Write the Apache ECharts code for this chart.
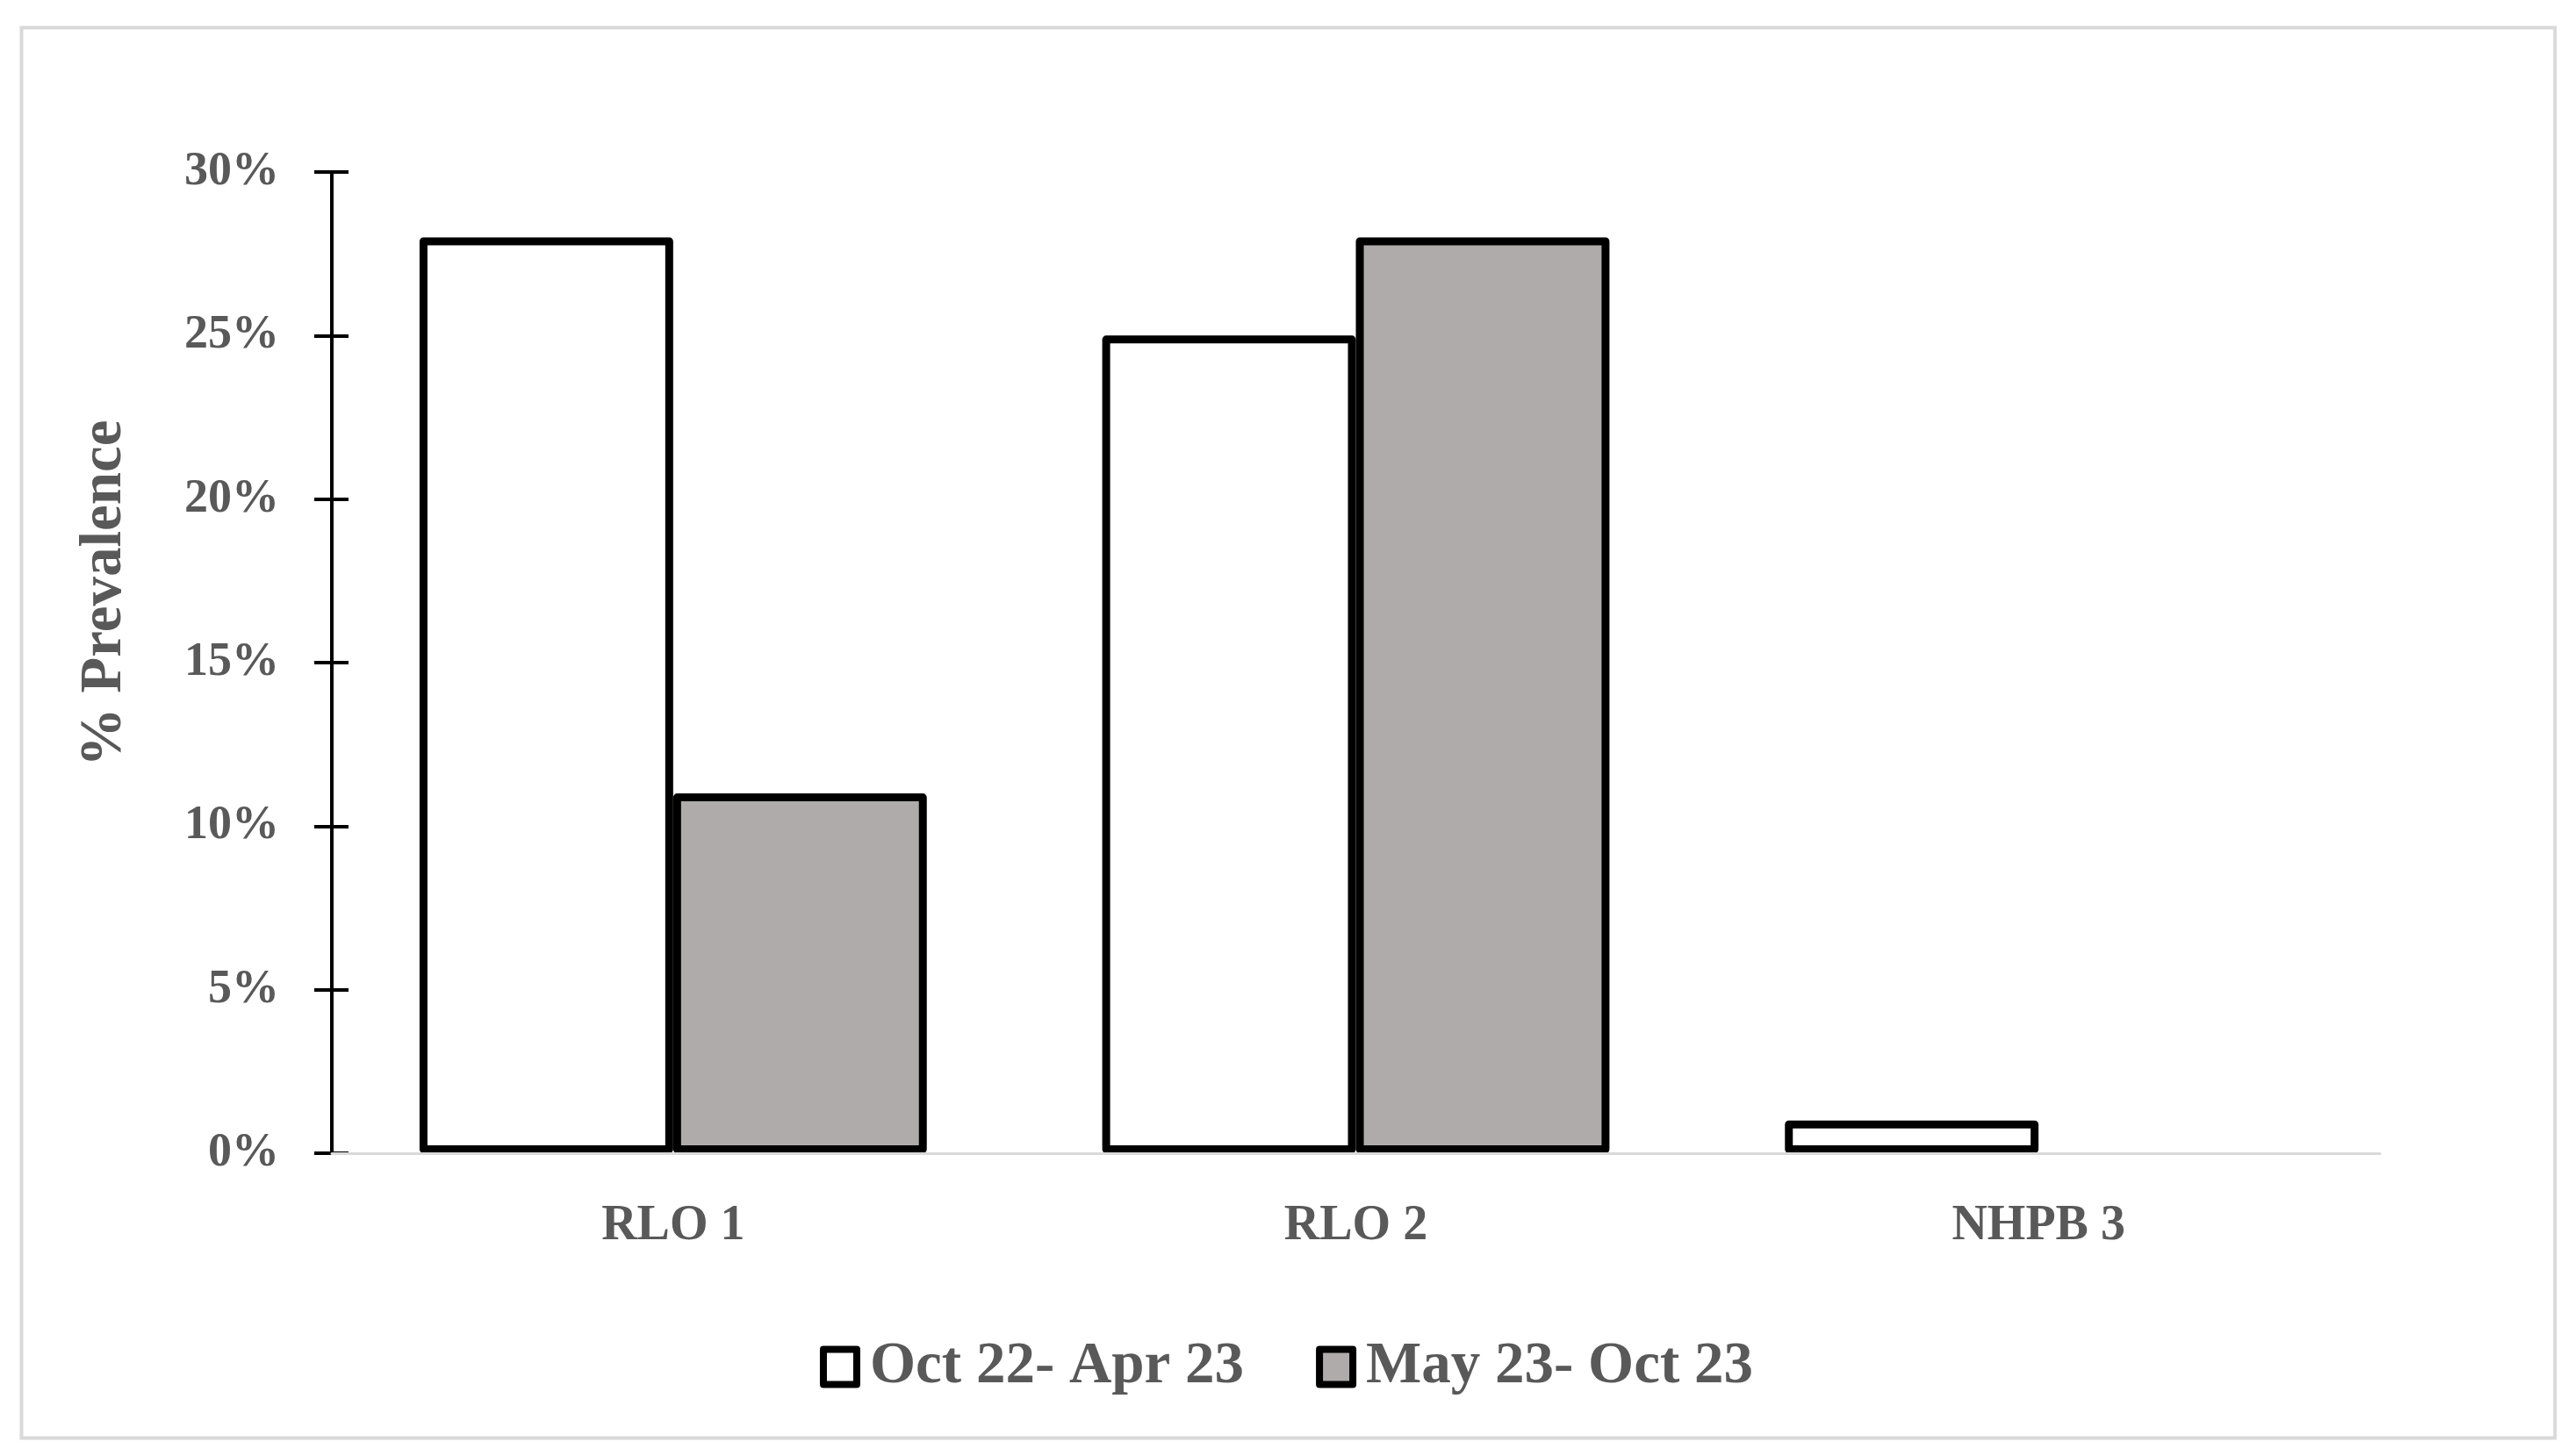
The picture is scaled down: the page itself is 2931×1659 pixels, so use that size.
<!DOCTYPE html>
<html>
<head>
<meta charset="utf-8">
<script src="https://cdn.jsdelivr.net/npm/echarts@6/dist/echarts.min.js"></script>
<style>
html,body{margin:0;padding:0;background:#fff;}
#chart{width:2931px;height:1659px;}
</style>
</head>
<body>
<div id="chart"></div>
<script>
const categories = ['RLO 1', 'RLO 2', 'NHPB 3'];
const seriesNames = ['Oct 22- Apr 23', 'May 23- Oct 23'];
const octApr = [28, 25, 1];
const mayOct = [11, 28, 0];
const yTicks = { min: 0, max: 30, interval: 5 };
const yTitle = '% Prevalence';

const FONT = '"Liberation Serif", serif';
const TXT = '#595959';

function toData(arr) {
  return arr.map(v => v === 0 ? { value: v, itemStyle: { borderWidth: 0 } } : v);
}

const chart = echarts.init(document.getElementById('chart'), null, { renderer: 'canvas' });
chart.setOption({
  backgroundColor: '#fff',
  animation: false,
  grid: { left: 378, right: 220, top: 196, bottom: 345, containLabel: false },
  legend: {
    data: seriesNames,
    left: 'center',
    top: 1519,
    itemWidth: 38,
    itemHeight: 40,
    itemGap: 82,
    icon: 'rect',
    textStyle: { fontFamily: FONT, fontWeight: 'bold', fontSize: 67, color: TXT, padding: [0, 0, 0, 10] },
    itemStyle: { borderColor: '#000', borderWidth: 8, borderJoin: 'round' }
  },
  xAxis: {
    type: 'category',
    data: categories,
    z: 10,
    axisLine: { lineStyle: { color: '#d9d9d9', width: 3 } },
    axisTick: { show: false },
    axisLabel: { fontFamily: FONT, fontWeight: 'bold', fontSize: 56, color: TXT, margin: 56 }
  },
  yAxis: [
    {
      type: 'value',
      min: yTicks.min, max: yTicks.max, interval: yTicks.interval,
      axisLine: { show: true, lineStyle: { color: '#000', width: 4 } },
      axisTick: { show: true, length: 20, lineStyle: { color: '#000', width: 4 } },
      splitLine: { show: false },
      axisLabel: { formatter: '{value}%', fontFamily: FONT, fontWeight: 'bold', fontSize: 54, color: TXT, margin: 60 }
    },
    {
      type: 'value',
      position: 'left',
      min: yTicks.min, max: yTicks.max, interval: yTicks.interval,
      axisLine: { show: false },
      axisTick: { show: true, inside: true, length: 19, lineStyle: { color: '#000', width: 4 } },
      splitLine: { show: false },
      axisLabel: { show: false }
    }
  ],
  series: [
    {
      name: seriesNames[0],
      type: 'bar',
      data: toData(octApr),
      barGap: '0%',
      barCategoryGap: '25.7%',
      itemStyle: { color: '#ffffff', borderColor: '#000', borderWidth: 9, borderJoin: 'round' }
    },
    {
      name: seriesNames[1],
      type: 'bar',
      data: toData(mayOct),
      barGap: '0%',
      barCategoryGap: '25.7%',
      itemStyle: { color: '#AFABAB', borderColor: '#000', borderWidth: 9, borderJoin: 'round' }
    }
  ],
  graphic: [
    {
      type: 'rect',
      left: 22, top: 29,
      shape: { width: 2886, height: 1607 },
      style: { fill: 'none', stroke: '#d9d9d9', lineWidth: 4 },
      silent: true, z: -10
    },
    {
      type: 'text',
      x: 120, y: 676,
      rotation: Math.PI / 2,
      style: {
        text: yTitle,
        fontFamily: FONT, fontWeight: 'bold', fontSize: 67,
        fill: TXT, align: 'center', verticalAlign: 'middle'
      }
    }
  ]
});
</script>
</body>
</html>
